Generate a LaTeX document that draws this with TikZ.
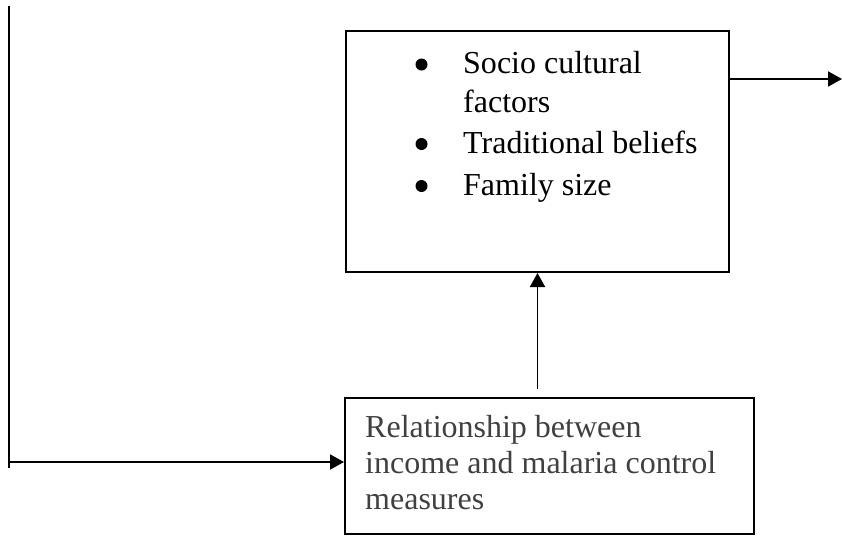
\documentclass[tikz,border=0pt]{standalone}
\usepackage{fontspec}
\setmainfont{Liberation Serif}
\usetikzlibrary{arrows.meta}
\definecolor{bottext}{HTML}{404040}
\begin{document}
\begin{tikzpicture}[x=1pt,y=-1pt,
  boxstyle/.style={draw=black,line width=2pt,rectangle,inner sep=0pt,anchor=center},
  linestyle/.style={draw=black,line width=1.9pt},
  arr/.style={linestyle,-{Triangle[length=14pt,width=15pt]}},
  dotstyle/.style={circle,fill=black,inner sep=0pt,minimum size=12pt},
  toptext/.style={anchor=base west,inner sep=0pt,font=\fontsize{32}{40}\selectfont,text=black},
  bottext/.style={anchor=base west,inner sep=0pt,font=\fontsize{32}{36}\selectfont,text=bottext}]
\useasboundingbox (0,0) rectangle (842,536);
% boxes
\node[boxstyle,minimum width=383pt,minimum height=241pt] (top) at (537.5,151.5) {};
\node[boxstyle,minimum width=409pt,minimum height=136pt] (bot) at (549.5,466) {};
% top box text
\node[dotstyle] (b1) at (421.5,64.5) {};
\node[toptext] (t1) at (463,73) {Socio cultural};
\node[toptext] (t1b) at (463,112) {factors};
\node[dotstyle] (b2) at (421.5,144) {};
\node[toptext] (t2) at (463,153) {Traditional beliefs};
\node[dotstyle] (b3) at (421.5,186) {};
\node[toptext] (t3) at (463,195) {Family size};
% bottom box text
\node[bottext] (r1) at (365,437) {Relationship between};
\node[bottext] (r2) at (365,473) {income and malaria control};
\node[bottext] (r3) at (365,509) {measures};
% coordinates
\coordinate (ltop) at (9,6);
\coordinate (lbot) at (9,468);
\coordinate (lmid) at (9,462);
\coordinate (rend) at (842,79);
\coordinate (vstart) at (537.5,389);
% connectors
\draw[linestyle] (ltop) -- (lbot);
\draw[arr] (lmid) -- (lmid -| bot.west);
\draw[arr] (vstart) -- (top.south);
\draw[arr] (top.east |- rend) -- (rend);
\end{tikzpicture}
\end{document}
